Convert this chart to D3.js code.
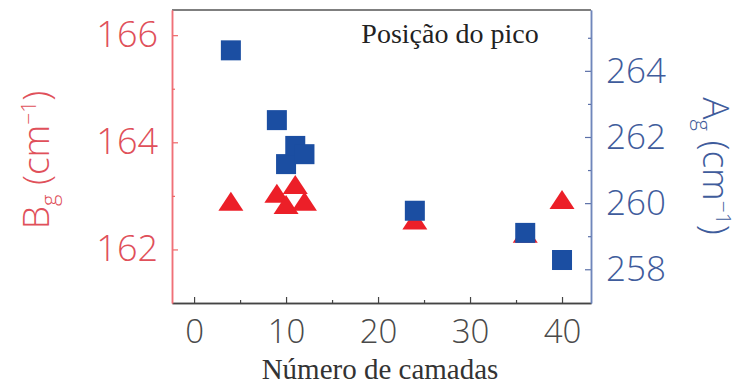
<!DOCTYPE html>
<html>
<head>
<meta charset="utf-8">
<script src="https://cdn.jsdelivr.net/npm/d3@7"></script>
<style>
  html, body { margin: 0; padding: 0; background: #fff; }
  svg { display: block; }
  .tick-lbl { font-family: "Open Sans", "DejaVu Sans", sans-serif; font-weight: 300; }
  .serif { font-family: "Liberation Serif", "Times New Roman", serif; }
</style>
</head>
<body>
<svg id="chart" width="742" height="387"></svg>
<script>
// Number of layers (x) and the two Raman peak positions
const layers = [4, 9, 10, 11, 12, 24, 36, 40];
const bgPeak = [162.9, 163.05, 162.84, 163.21, 162.9, 162.55, 162.3, 162.93];   // B_g, left axis
const agPeak = [264.62, 262.51, 261.18, 261.73, 261.48, 259.77, 259.1, 258.28]; // A_g, right axis

const xTicks = [0, 10, 20, 30, 40];
const xMinor = [5, 15, 25, 35];
const leftTicks = [162, 164, 166];
const leftMinor = [163, 165];
const rightTicks = [258, 260, 262, 264];
const rightMinor = [259, 261, 263, 265];

const RED = "#ec1f28";
const BLUE = "#1b4ea2";

const plot = { left: 172, right: 591, top: 10, bottom: 303 };

const svg = d3.select("#chart");

const x = d3.scaleLinear().domain([-2.4, 43.15]).range([plot.left, plot.right]);
const yL = d3.scaleLinear().domain([161.0, 166.47]).range([plot.bottom, plot.top]);
const yR = d3.scaleLinear().domain([256.98, 265.84]).range([plot.bottom, plot.top]);

const fmt = d3.format("d");

// Top edge of the frame
svg.append("line").attr("x1", plot.left).attr("x2", plot.right)
  .attr("y1", plot.top).attr("y2", plot.top)
  .attr("stroke", "#555").attr("stroke-width", 1.5);

// Bottom axis
const gx = svg.append("g").attr("transform", `translate(0,${plot.bottom})`);
gx.call(d3.axisBottom(x).tickValues(xTicks).tickFormat(fmt).tickSizeInner(-6).tickSizeOuter(0).tickPadding(17));
gx.append("g").call(d3.axisBottom(x).tickValues(xMinor).tickSizeInner(-3).tickSizeOuter(0).tickFormat(""));
gx.selectAll(".domain").attr("stroke", "#444").attr("stroke-width", 1.5);
gx.selectAll(".tick line").attr("stroke", "#444").attr("stroke-width", 1.2);
gx.selectAll(".tick text").attr("class", "tick-lbl").attr("fill", "#4a4a4a")
  .attr("font-size", 33);

// Left axis (B_g)
const gl = svg.append("g").attr("transform", `translate(${plot.left},0)`);
gl.call(d3.axisLeft(yL).tickValues(leftTicks).tickFormat(fmt).tickSizeInner(-6).tickSizeOuter(0).tickPadding(14));
gl.append("g").call(d3.axisLeft(yL).tickValues(leftMinor).tickSizeInner(-3).tickSizeOuter(0).tickFormat(""));
gl.selectAll(".domain").attr("stroke", "#f07078").attr("stroke-width", 1.5);
gl.selectAll(".tick line").attr("stroke", "#e66").attr("stroke-width", 1.2);
gl.selectAll(".tick text").attr("class", "tick-lbl").attr("fill", "#e0505a")
  .attr("font-size", 36);

// Right axis (A_g)
const gr = svg.append("g").attr("transform", `translate(${plot.right},0)`);
gr.call(d3.axisRight(yR).tickValues(rightTicks).tickFormat(fmt).tickSizeInner(-6).tickSizeOuter(0).tickPadding(15));
gr.append("g").call(d3.axisRight(yR).tickValues(rightMinor).tickSizeInner(-3).tickSizeOuter(0).tickFormat(""));
gr.selectAll(".domain").attr("stroke", "#6f86bb").attr("stroke-width", 1.5);
gr.selectAll(".tick line").attr("stroke", "#5b70a8").attr("stroke-width", 1.2);
gr.selectAll(".tick text").attr("class", "tick-lbl").attr("fill", "#3f5c9c")
  .attr("font-size", 35);

// Markers: triangles (B_g) under squares (A_g)
const triW = 25, triH = 19, sq = 20;
svg.append("g").selectAll("path")
  .data(layers.map((l, i) => ({ l, v: bgPeak[i] })))
  .join("path")
  .attr("transform", d => `translate(${x(d.l)},${yL(d.v)})`)
  .attr("d", `M0,${-triH / 2}L${triW / 2},${triH / 2}L${-triW / 2},${triH / 2}Z`)
  .attr("fill", RED);

svg.append("g").selectAll("rect")
  .data(layers.map((l, i) => ({ l, v: agPeak[i] })))
  .join("rect")
  .attr("x", d => x(d.l) - sq / 2)
  .attr("y", d => yR(d.v) - sq / 2)
  .attr("width", sq).attr("height", sq)
  .attr("fill", BLUE);

// Panel label
svg.append("text").attr("class", "serif")
  .attr("x", 450).attr("y", 43).attr("text-anchor", "middle")
  .attr("font-size", 28).attr("fill", "#222")
  .text("Posição do pico");

// X axis title
svg.append("text").attr("class", "serif")
  .attr("x", 380).attr("y", 379).attr("text-anchor", "middle")
  .attr("font-size", 29).attr("fill", "#333")
  .text("Número de camadas");

// Y axis titles
function axisTitle(letter, color, tx, ty, rot) {
  const t = svg.append("text").attr("class", "tick-lbl")
    .attr("transform", `translate(${tx},${ty}) rotate(${rot})`)
    .attr("text-anchor", "middle").attr("font-size", 37).attr("fill", color);
  t.append("tspan").text(letter);
  t.append("tspan").attr("font-size", 22).attr("dy", 8).text("g");
  t.append("tspan").attr("dy", -8).text(" (cm");
  t.append("tspan").attr("font-size", 21).attr("dy", -13).text("−1");
  t.append("tspan").attr("dy", 13).text(")");
}
axisTitle("B", "#e0505a", 49, 160, -90);
axisTitle("A", "#3f5c9c", 703, 166, 90);
</script>
</body>
</html>
